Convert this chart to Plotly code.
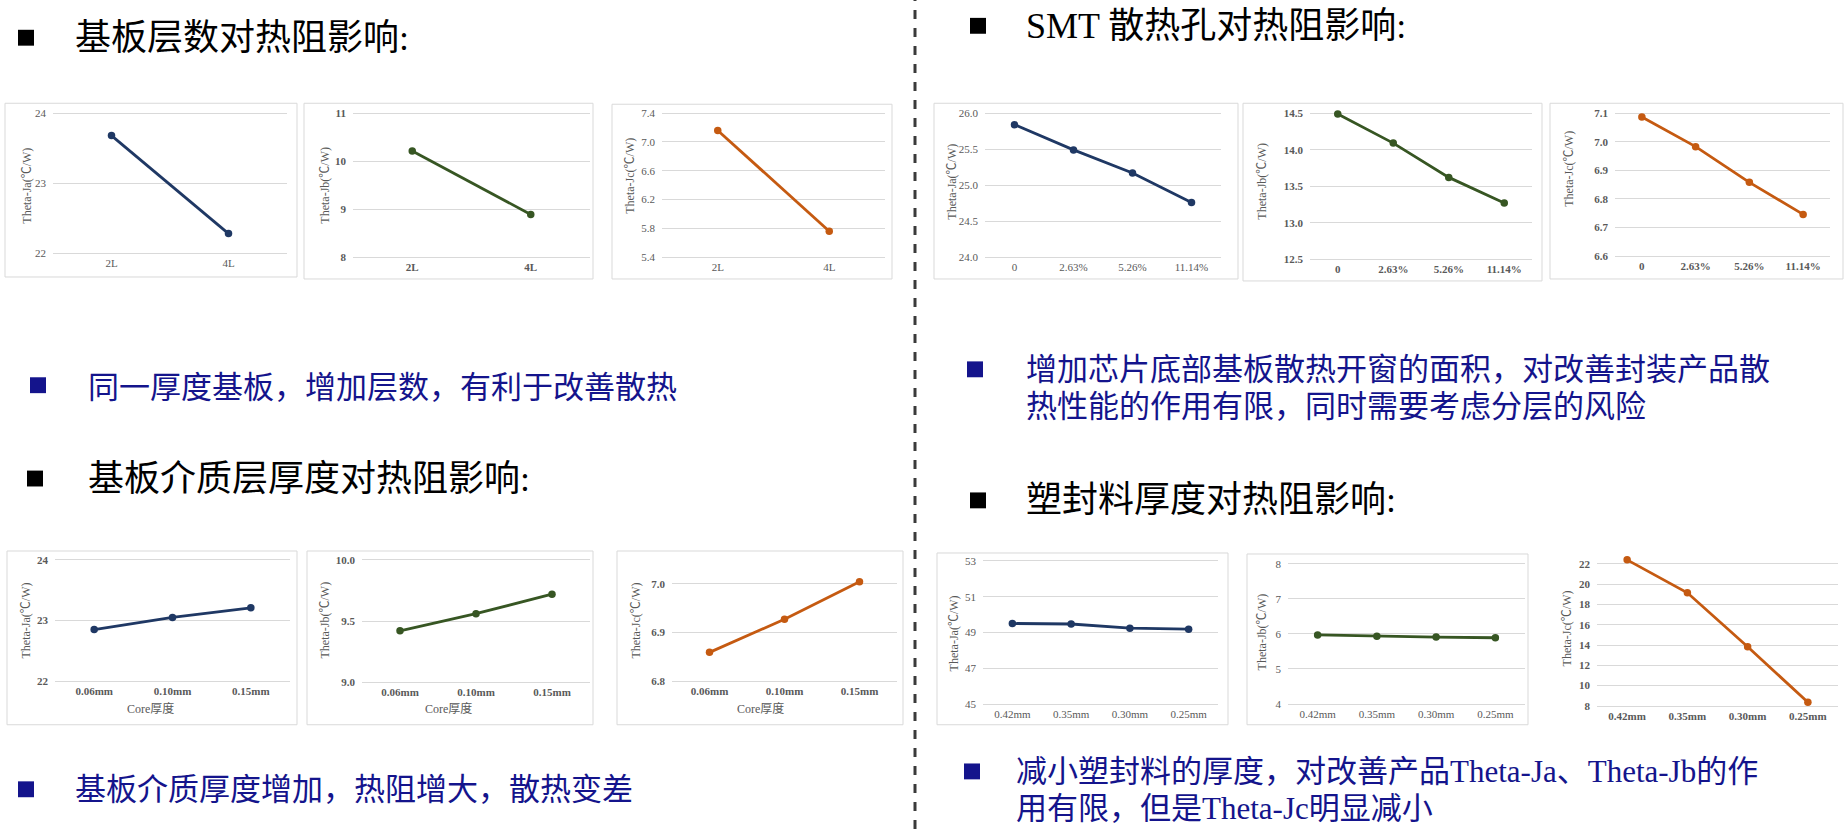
import plotly.graph_objects as go

W, H = 1845, 835

# ---------------- data ----------------
layer_cats = ["2L", "4L"]
layer_ja = [23.68, 22.28]
layer_jb = [10.21, 8.89]
layer_jc = [7.16, 5.76]

smt_cats = ["0", "2.63%", "5.26%", "11.14%"]
smt_ja = [25.84, 25.49, 25.17, 24.76]
smt_jb = [14.49, 14.09, 13.62, 13.27]
smt_jc = [7.087, 6.983, 6.858, 6.746]

core_cats = ["0.06mm", "0.10mm", "0.15mm"]
core_ja = [22.85, 23.05, 23.21]
core_jb = [9.42, 9.56, 9.72]
core_jc = [6.859, 6.927, 7.004]

mold_cats = ["0.42mm", "0.35mm", "0.30mm", "0.25mm"]
mold_ja = [49.50, 49.47, 49.24, 49.18]
mold_jb = [5.97, 5.93, 5.91, 5.89]
mold_jc = [22.40, 19.15, 13.83, 8.36]

ytitle_ja = "Theta-Ja(℃/W)"
ytitle_jb = "Theta-Jb(℃/W)"
ytitle_jc = "Theta-Jc(℃/W)"
core_xtitle = "Core厚度"

headings = ["基板层数对热阻影响:", "基板介质层厚度对热阻影响:", "SMT 散热孔对热阻影响:", "塑封料厚度对热阻影响:"]
notes = [
    ["同一厚度基板，增加层数，有利于改善散热"],
    ["基板介质厚度增加，热阻增大，散热变差"],
    ["增加芯片底部基板散热开窗的面积，对改善封装产品散", "热性能的作用有限，同时需要考虑分层的风险"],
    ["减小塑封料的厚度，对改善产品Theta-Ja、Theta-Jb的作", "用有限，但是Theta-Jc明显减小"],
]

# ---------------- styles / layout ----------------
NAVY = "#1F3864"
GREEN = "#375623"
ORANGE = "#C55A11"
GRID = "#d9d9d9"
TICK = "#595959"
SERIF = "Liberation Serif, 'Times New Roman', 'Noto Sans CJK SC', serif"

# cats, vals, color, ytitle, ymin, ymax, dtick, fmt, plot(x0,x1,ytop,ybot), ytitle(x,y), box or None, xtitle(x,y) or None, bold
charts = [
    (layer_cats, layer_ja, NAVY, ytitle_ja, 22, 24, 1, "d", (53, 287, 114, 255), (27, 187), (5, 104, 297, 279), None, False),
    (layer_cats, layer_jb, GREEN, ytitle_jb, 8, 11, 1, "d", (353, 590, 114, 259), (325, 187), (304, 104, 593, 281), None, True),
    (layer_cats, layer_jc, ORANGE, ytitle_jc, 5.4, 7.4, 0.4, ".1f", (662, 885, 114, 259), (630, 177), (612, 105, 892, 281), None, False),
    (smt_cats, smt_ja, NAVY, ytitle_ja, 24, 26, 0.5, ".1f", (985, 1221, 114, 259), (952, 183), (934, 104, 1238, 281), None, False),
    (smt_cats, smt_jb, GREEN, ytitle_jb, 12.5, 14.5, 0.5, ".1f", (1310, 1532, 114, 261), (1262, 183), (1243, 104, 1542, 283), None, True),
    (smt_cats, smt_jc, ORANGE, ytitle_jc, 6.6, 7.1, 0.1, ".1f", (1615, 1830, 114, 258), (1569, 170), (1550, 104, 1843, 281), None, True),
    (core_cats, core_ja, NAVY, ytitle_ja, 22, 24, 1, "d", (55, 290, 564, 686), (26, 625), (7, 555, 297, 730), (150, 714), True),
    (core_cats, core_jb, GREEN, ytitle_jb, 9, 10, 0.5, ".1f", (362, 590, 564, 687), (325, 625), (307, 555, 593, 730), (448, 714), True),
    (core_cats, core_jc, ORANGE, ytitle_jc, 6.8, 7.0, 0.1, ".1f", (672, 897, 588, 686), (636, 625), (617, 555, 903, 730), (760, 714), True),
    (mold_cats, mold_ja, NAVY, ytitle_ja, 45, 53, 2, "d", (983, 1218, 565, 709), (954, 638), (937, 557, 1228, 730), None, False),
    (mold_cats, mold_jb, GREEN, ytitle_jb, 4, 8, 1, "d", (1288, 1525, 568, 709), (1262, 637), (1247, 558, 1528, 730), None, False),
    (mold_cats, mold_jc, ORANGE, ytitle_jc, 8, 22, 2, "d", (1597, 1838, 568, 711), (1567, 633), None, None, True),
]

EXTRA = 10  # px of headroom above the top gridline so lines are not clipped


def px_x(x):
    return x / W


def px_y(y):
    return 1 - y / H


fig = go.Figure()
layout = dict(
    width=W, height=H, margin=dict(l=0, r=0, t=0, b=0),
    paper_bgcolor="white", plot_bgcolor="white", showlegend=False,
)
shapes = []
annotations = []

for i, (cats, vals, color, ytitle, ymin, ymax, dtick, fmt, (x0, x1, yt, yb), (tx, ty), box, xtitle, bold) in enumerate(charts):
    n = i + 1
    xa = "x" if n == 1 else f"x{n}"
    ya = "y" if n == 1 else f"y{n}"
    fig.add_trace(go.Scatter(
        x=cats, y=vals, xaxis=xa, yaxis=ya, mode="lines+markers",
        line=dict(color=color, width=2.8), marker=dict(color=color, size=7.5),
        cliponaxis=False, hoverinfo="x+y",
    ))
    nt = int(round((ymax - ymin) / dtick))
    tickvals = [round(ymin + k * dtick, 4) for k in range(nt + 1)]
    if fmt == "d":
        ticktext = [f"{v:.0f}" for v in tickvals]
    else:
        ticktext = [f"{v:.1f}" for v in tickvals]
    top_ext = ymax + (ymax - ymin) * EXTRA / (yb - yt)
    tfont = dict(family=SERIF, size=11, color=TICK, weight="bold" if bold else "normal")
    layout["xaxis" if n == 1 else f"xaxis{n}"] = dict(
        domain=[px_x(x0), px_x(x1)], anchor=ya, type="category",
        range=[-0.5, len(cats) - 0.5], showgrid=False, zeroline=False,
        showline=True, linecolor=GRID, linewidth=1, ticks="",
        tickfont=tfont, fixedrange=True,
    )
    layout["yaxis" if n == 1 else f"yaxis{n}"] = dict(
        domain=[px_y(yb), px_y(yt - EXTRA)], anchor=xa, range=[ymin, top_ext],
        tickmode="array", tickvals=tickvals, ticktext=ticktext,
        showgrid=True, gridcolor=GRID, gridwidth=1, zeroline=False,
        showline=False, ticks="", ticklabelstandoff=6,
        tickfont=tfont, fixedrange=True,
    )
    annotations.append(dict(
        xref="paper", yref="paper", x=px_x(tx), y=px_y(ty), text=ytitle,
        textangle=-90, showarrow=False, xanchor="center", yanchor="middle",
        font=dict(family=SERIF, size=12, color=TICK),
    ))
    if xtitle is not None:
        annotations.append(dict(
            xref="paper", yref="paper", x=px_x(xtitle[0]), y=px_y(xtitle[1]), text=core_xtitle,
            showarrow=False, xanchor="center", yanchor="middle",
            font=dict(family=SERIF, size=12, color=TICK),
        ))
    if box is not None:
        bx0, by0, bx1, by1 = box
        shapes.append(dict(
            type="rect", xref="paper", yref="paper", layer="below",
            x0=px_x(bx0), x1=px_x(bx1), y0=px_y(by1), y1=px_y(by0),
            line=dict(color=GRID, width=1), fillcolor="rgba(0,0,0,0)",
        ))

# divider
shapes.append(dict(
    type="line", xref="paper", yref="paper", x0=px_x(915), x1=px_x(915), y0=0, y1=1,
    line=dict(color="#3a3a3a", width=3, dash="dash"),
))

# headings (black squares)
heading_pos = [((26, 38), (73, 38)), ((35, 482), (86, 482)), ((978, 26), (1024, 26)), ((978, 504), (1024, 504))]
for text, ((sx, sy), (hx, hy)) in zip(headings, heading_pos):
    s = 8
    shapes.append(dict(type="rect", xref="paper", yref="paper",
                       x0=px_x(sx - s), x1=px_x(sx + s), y0=px_y(sy + s), y1=px_y(sy - s),
                       fillcolor="black", line=dict(width=0)))
    annotations.append(dict(
        xref="paper", yref="paper", x=px_x(hx), y=px_y(hy), text=text,
        showarrow=False, xanchor="left", yanchor="middle",
        font=dict(family=SERIF, size=36, color="black"),
    ))

# notes (blue squares)
BLUE = "#14148c"
note_pos = [((38, 388), (86, [390])), ((26, 795), (73, [795])),
            ((975, 372), (1024, [372, 409])), ((972, 777), (1014, [777, 814]))]
for lines, ((sx, sy), (nx, nys)) in zip(notes, note_pos):
    s = 8
    shapes.append(dict(type="rect", xref="paper", yref="paper",
                       x0=px_x(sx - s), x1=px_x(sx + s), y0=px_y(sy + s), y1=px_y(sy - s),
                       fillcolor=BLUE, line=dict(width=0)))
    for line, ny in zip(lines, nys):
        annotations.append(dict(
            xref="paper", yref="paper", x=px_x(nx), y=px_y(ny), text=line,
            showarrow=False, xanchor="left", yanchor="middle",
            font=dict(family=SERIF, size=31, color=BLUE),
        ))

layout["shapes"] = shapes
layout["annotations"] = annotations
fig.update_layout(**layout)
fig.write_html(
    "out.html",
    config={"displayModeBar": False},
    post_script="document.body.style.margin='0';document.body.style.overflow='hidden';",
)
